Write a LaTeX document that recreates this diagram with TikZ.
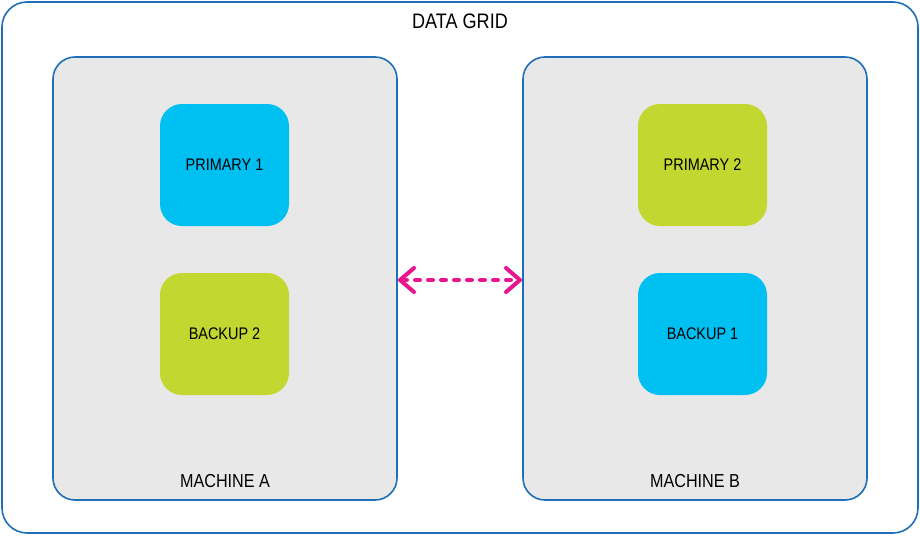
\documentclass[tikz,border=0pt]{standalone}
\usepackage{fontspec}
\setmainfont{Liberation Sans}[FakeStretch=0.86]
\usetikzlibrary{arrows.meta}
\definecolor{gridblue}{HTML}{1F6FB8}
\definecolor{machfill}{HTML}{E8E8E8}
\definecolor{cyanbox}{HTML}{00C0F2}
\definecolor{limebox}{HTML}{C2D72F}
\definecolor{magarrow}{HTML}{E8158E}
\begin{document}
\begin{tikzpicture}[x=1pt,y=-1pt,
  frame/.style={draw=gridblue,line width=1.6pt},
  machine/.style={frame,fill=machfill,rounded corners=22pt},
  part/.style={fill=#1,rounded corners=22pt},
  lbl/.style={font=\fontsize{16.8}{19}\selectfont,text=black},
  biglbl/.style={font=\fontsize{21}{24}\selectfont,text=black},
  midlbl/.style={font=\fontsize{18.8}{22}\selectfont,text=black},
  barb/.style={Straight Barb[length=15pt,width=24pt,line cap=round,round]}]
\useasboundingbox (0,0) rectangle (920,535);
\fill[white] (0,0) rectangle (920,535);
\draw[frame,rounded corners=25pt] (2,2) rectangle (918,533);
\node[biglbl] (title) at (460,21) {DATA GRID};
% machines
\draw[machine] (53,57) rectangle (397,500);
\coordinate (mAe) at (397,280);
\draw[machine] (523,57) rectangle (867,500);
\coordinate (mBw) at (523,280);
\node[midlbl] (labA) at (225,481) {MACHINE A};
\node[midlbl] (labB) at (695,481) {MACHINE B};
% parts
\fill[part=cyanbox] (160,104) rectangle (289,226);
\node[lbl] (p1) at (224.5,165) {PRIMARY 1};
\fill[part=limebox] (160,273) rectangle (289,395);
\node[lbl] (b2) at (224.5,334) {BACKUP 2};
\fill[part=limebox] (638,104) rectangle (767,226);
\node[lbl] (p2) at (702.5,165) {PRIMARY 2};
\fill[part=cyanbox] (638,273) rectangle (767,395);
\node[lbl] (b1) at (702.5,334) {BACKUP 1};
% arrow
\draw[magarrow,line width=4pt,line cap=round,dash pattern=on 5pt off 8pt,
  {Straight Barb[length=14pt,width=24pt,line cap=round,round]}-{Straight Barb[length=14pt,width=24pt,line cap=round,round]}]
  ([xshift=1pt]mAe) -- ([xshift=-1pt]mBw);
\end{tikzpicture}
\end{document}
